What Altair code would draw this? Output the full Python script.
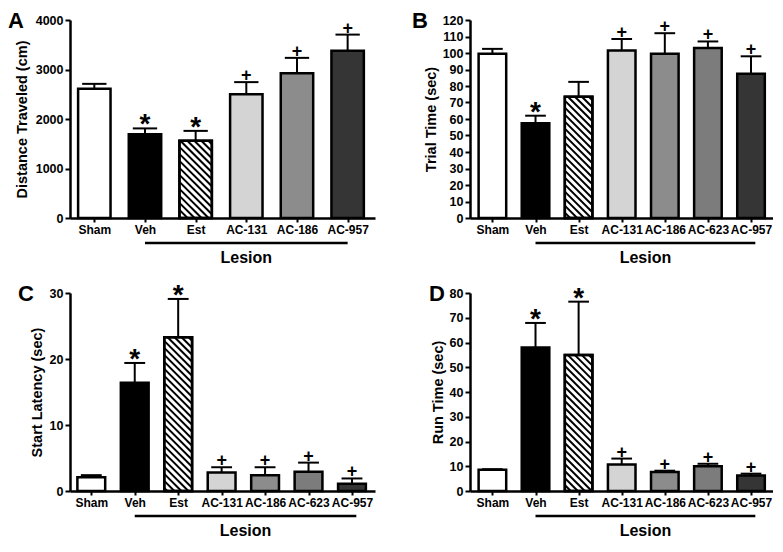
import altair as alt
import pandas as pd
import numpy as np

FONT = "Liberation Sans"

# ---------------- data ----------------
cats_a = ["Sham", "Veh", "Est", "AC-131", "AC-186", "AC-957"]
dist_mean = [2610, 1690, 1560, 2500, 2925, 3380]
dist_top = [2710, 1810, 1760, 2745, 3235, 3705]
dist_sig = ["", "*", "*", "+", "+", "+"]

cats_b = ["Sham", "Veh", "Est", "AC-131", "AC-186", "AC-623", "AC-957"]
trial_mean = [99.5, 57.5, 73.5, 101.5, 99.5, 103.0, 87.5]
trial_top = [102.5, 62.0, 82.5, 108.5, 112.0, 107.0, 98.0]
trial_sig = ["", "*", "", "+", "+", "+", "+"]

latency_mean = [2.1, 16.4, 23.3, 2.8, 2.4, 2.9, 1.1]
latency_top = [2.4, 19.4, 29.1, 3.6, 3.6, 4.3, 1.9]
latency_sig = ["", "*", "*", "+", "+", "+", "+"]

run_mean = [8.6, 58.0, 54.9, 10.7, 7.7, 10.0, 6.3]
run_top = [8.8, 67.9, 76.5, 13.1, 8.2, 11.0, 7.0]
run_sig = ["", "*", "*", "+", "+", "+", "+"]

fill_map = {"Sham": "#ffffff", "Veh": "#000000", "Est": "#ffffff",
            "AC-131": "#d4d4d4", "AC-186": "#8c8c8c", "AC-623": "#7c7c7c",
            "AC-957": "#353535"}

BAR_HW = 0.32
CAP_HW = 0.24


def hatch_segments(idx, mean, xmin, xmax, ymax, W, H, step=7.0):
    kx = W / (xmax - xmin)
    ky = H / ymax
    X0 = (idx - BAR_HW - xmin) * kx
    X1 = (idx + BAR_HW - xmin) * kx
    Y0 = H - mean * ky
    Y1 = H
    rows = []
    c = Y0 - X1 + step / 2
    while c < Y1 - X0:
        xa = max(X0, Y0 - c)
        xb = min(X1, Y1 - c)
        if xb > xa:
            rows.append({
                "hx0": xmin + xa / kx, "hy0": (H - (xa + c)) / ky,
                "hx1": xmin + xb / kx, "hy1": (H - (xb + c)) / ky,
            })
        c += step
    return pd.DataFrame(rows)


def panel(cats, mean, top, sig, letter, ytitle, ymax, ystep, W, H,
          xmin, xmax, letter_x, title_x, lesion_end):
    n = len(cats)
    idx = list(range(n))
    df = pd.DataFrame({"idx": idx, "cat": cats, "mean": mean, "top": top, "sig": sig})
    df["x0"] = df["idx"] - BAR_HW
    df["x1"] = df["idx"] + BAR_HW
    df["c0"] = df["idx"] - CAP_HW
    df["c1"] = df["idx"] + CAP_HW
    df["zero"] = 0
    df["fill"] = [fill_map[c] for c in cats]

    xs = alt.Scale(domain=[xmin, xmax], nice=False, zero=False)
    ys = alt.Scale(domain=[0, ymax], nice=False, zero=True)
    label_expr = "[" + ",".join("'%s'" % c for c in cats) + "][datum.value]"
    xaxis = alt.Axis(values=idx, labelExpr=label_expr, title=None, grid=False,
                     tickSize=4, tickWidth=2, tickColor="black",
                     domainColor="black", domainWidth=2.5,
                     labelFont=FONT, labelFontSize=12, labelFontWeight="bold",
                     labelColor="black", labelFlush=False, labelOverlap=False,
                     labelPadding=2)
    yaxis = alt.Axis(values=list(range(0, ymax + 1, ystep)), format="d",
                     title=ytitle, grid=False,
                     tickSize=5, tickWidth=2, tickColor="black",
                     domainColor="black", domainWidth=2.5,
                     labelFont=FONT, labelFontSize=12.5, labelFontWeight="bold",
                     labelColor="black", labelFlush=False, labelOverlap=False,
                     labelPadding=2,
                     titleFont=FONT, titleFontSize=14.5, titleFontWeight="bold",
                     titleColor="black", titleX=title_x, titleBaseline="alphabetic")

    def X(f):
        return alt.X(f, scale=xs, axis=xaxis)

    def Y(f):
        return alt.Y(f, scale=ys, axis=yaxis)

    base = alt.Chart(df)
    bars = base.mark_rect(stroke="black", strokeWidth=2.5).encode(
        x=X("x0:Q"), x2="x1", y=Y("mean:Q"), y2="zero",
        fill=alt.Fill("fill:N", scale=None),
    )
    err = base.mark_rule(color="black", strokeWidth=2).encode(
        x=X("idx:Q"), y=Y("mean:Q"), y2="top",
    )
    cap = base.mark_rule(color="black", strokeWidth=2).encode(
        x=X("c0:Q"), x2="c1", y=Y("top:Q"),
    )
    layers = [bars]

    est = df[df["cat"] == "Est"]
    if len(est):
        hd = hatch_segments(float(est["idx"].iloc[0]), float(est["mean"].iloc[0]),
                            xmin, xmax, ymax, W, H)
        hatch = alt.Chart(hd).mark_rule(color="black", strokeWidth=2).encode(
            x=X("hx0:Q"), y=Y("hy0:Q"), x2="hx1", y2="hy1",
        )
        outline = alt.Chart(est).mark_rect(fillOpacity=0, stroke="black", strokeWidth=2.5).encode(
            x=X("x0:Q"), x2="x1", y=Y("mean:Q"), y2="zero",
        )
        layers += [hatch, outline]

    layers += [err, cap]

    stars = alt.Chart(df[df["sig"] == "*"]).mark_text(
        font=FONT, fontSize=28, fontWeight="bold", baseline="alphabetic", dy=5, color="black"
    ).encode(x=X("idx:Q"), y=Y("top:Q"), text="sig:N")
    plus = alt.Chart(df[df["sig"] == "+"]).mark_text(
        font=FONT, fontSize=18, fontWeight="bold", baseline="alphabetic", dy=-1, color="black"
    ).encode(x=X("idx:Q"), y=Y("top:Q"), text="sig:N")
    layers += [stars, plus]

    les = pd.DataFrame({"a": [1.0], "b": [lesion_end], "mid": [(1.0 + lesion_end) / 2],
                        "t": ["Lesion"]})
    les_rule = alt.Chart(les).mark_rule(color="black", strokeWidth=2.5).encode(
        x=X("a:Q"), x2="b", y=alt.value(H + 25))
    les_text = alt.Chart(les).mark_text(
        font=FONT, fontSize=16, fontWeight="bold", baseline="alphabetic",
        align="center", color="black"
    ).encode(x=X("mid:Q"), y=alt.value(H + 45), text="t:N")
    let = alt.Chart(pd.DataFrame({"t": [letter]})).mark_text(
        font=FONT, fontSize=22, fontWeight="bold", baseline="alphabetic",
        align="left", color="black"
    ).encode(x=alt.value(letter_x), y=alt.value(8), text="t:N")
    layers += [les_rule, les_text, let]

    return alt.layer(*layers).properties(width=W, height=H)


H = 198
pa = panel(cats_a, dist_mean, dist_top, dist_sig, "A", "Distance Traveled (cm)",
           4000, 1000, 305, H, -0.48, 5.54, -62, -44, 5.0)
pb = panel(cats_b, trial_mean, trial_top, trial_sig, "B", "Trial Time (sec)",
           120, 10, 303, H, -0.52, 6.51, -58, -35, 6.1)
pc = panel(cats_b, latency_mean, latency_top, latency_sig, "C", "Start Latency (sec)",
           30, 10, 305, H, -0.49, 6.53, -52, -29, 6.1)
pd_ = panel(cats_b, run_mean, run_top, run_sig, "D", "Run Time (sec)",
            80, 10, 303, H, -0.52, 6.51, -41, -28, 6.1)

chart = alt.concat(pa, pb, pc, pd_, columns=2, spacing={"row": 75, "column": 95},
                   bounds="flush").properties(
    padding={"left": 0, "top": 2, "right": 0, "bottom": 0}
).configure(font=FONT).configure_view(stroke=None)

chart.save("out.html", embed_options={"renderer": "svg", "actions": False})
